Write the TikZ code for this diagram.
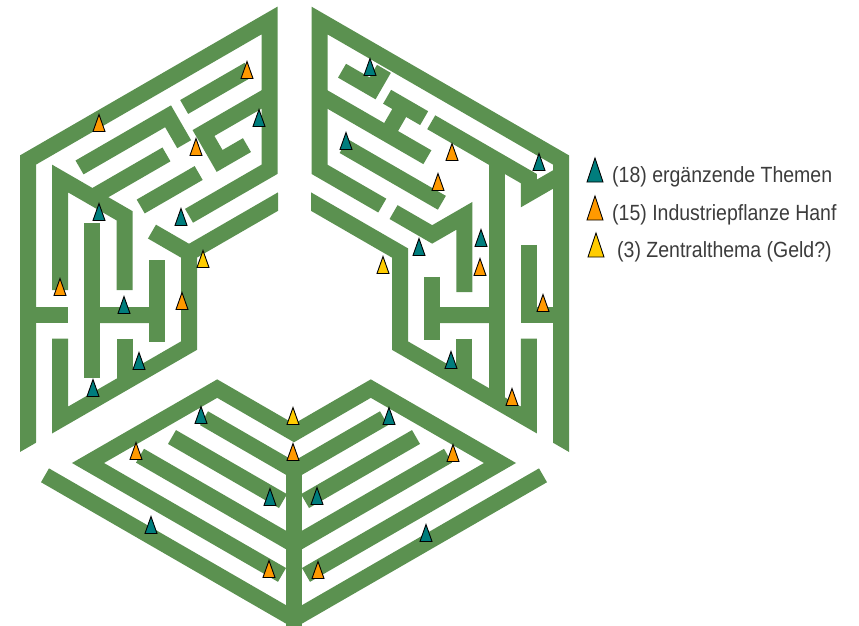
\documentclass[tikz,border=0pt]{standalone}
\usepackage{fontspec}
\setmainfont{Liberation Sans}
\definecolor{mz}{RGB}{91,145,80}
\definecolor{tealm}{RGB}{0,125,125}
\definecolor{orgm}{RGB}{255,153,0}
\definecolor{yelm}{RGB}{255,204,0}
\definecolor{txtm}{RGB}{60,60,60}
\newcommand\mtri[3]{\filldraw[mk,fill=#1] (#2-6,#3+8.5) -- (#2,#3-8.5) -- (#2+6,#3+8.5) -- cycle;}
\newcommand\ltri[3]{\filldraw[mk,fill=#1] (#2-8,#3+12) -- (#2,#3-12) -- (#2+8,#3+12) -- cycle;}
\begin{document}
\begin{tikzpicture}[x=1pt,y=-1pt,
  wall/.style={draw=mz,line width=16pt,line cap=butt,line join=miter},
  mk/.style={draw=black,line width=0.9pt,line join=miter},
  legtext/.style={anchor=base west,inner sep=0pt,text=txtm,font=\fontsize{22}{24}\selectfont}]
\useasboundingbox (0,0) rectangle (859,626);

% ---------- top-left section ----------
\begin{scope}
\clip (0,0) -- (278,0) -- (278,303.1) -- (0,463.5) -- cycle;
\begin{scope}[shift={(28,160)}]
\begin{scope}[x={(32.2pt,18.6pt)},y={(0pt,-37.2pt)}]
\draw[wall] (0,8.6)--(0,0)--(7.5,0)--(7.5,4)--(5,4);
\draw[wall] (7.9,5)--(5,5)--(5,7.5)--(1,7.5)--(1,5.3);
\draw[wall] (5,5)--(3.85,3.85);
\draw[wall] (1,4)--(1,1)--(3,3)--(3,5);
\draw[wall] (2,2)--(4.3,2);
\draw[wall] (2,2.7)--(2,6.85);
\draw[wall] (4,4.7)--(4,6.9);
\draw[wall] (2,5.167)--(4,6.167);
\draw[wall] (0,4.167)--(1.25,4.792);
\draw[wall] (3,6.3)--(3,7.5);
\draw[wall] (1.6,1)--(4.35,1)--(4.85,2);
\draw[wall] (4.85,1)--(6.85,1);
\draw[wall] (7.5,2)--(5.45,2)--(5.95,3)--(6.8,3);
\draw[wall] (3.5,3)--(5.3,3);
\end{scope}\end{scope}\end{scope}

% ---------- top-right section ----------
\begin{scope}
\clip (311,0) -- (589,0) -- (589,463.5) -- (311,303.1) -- cycle;
\begin{scope}[shift={(561,160)}]
\begin{scope}[x={(-32.2pt,18.6pt)},y={(0pt,-37.2pt)}]
\draw[wall] (0,8.6)--(0,0)--(7.5,0)--(7.5,4)--(5.55,4);
\draw[wall] (7.9,5)--(5,5)--(5,7.5)--(1,7.5)--(1,5.3);
\draw[wall] (5.2,4)--(4,4)--(3,3)--(3,5.05);
\draw[wall] (4,5.14)--(4,6.84);
\draw[wall] (4,6.167)--(2,5.167);
\draw[wall] (2,1)--(2,7.5);
\draw[wall] (3,6.3)--(3,7.5);
\draw[wall] (1,2.78)--(1,4.667)--(0,4.167);
\draw[wall] (6.8,1)--(5.85,1)--(5.5,0.3);
\draw[wall] (7.5,2)--(4.15,2);
\draw[wall] (5.4,1)--(4.25,1);
\draw[wall] (4.9,1)--(5.4,2);
\draw[wall] (4.03,1)--(1,1)--(1,1.4)--(0,0.4);
\draw[wall] (6.75,3)--(3.7,3);
\end{scope}\end{scope}\end{scope}

% ---------- bottom section ----------
\draw[wall] (45,475.3)--(294,619)--(543,475.3);
\draw[wall] (294,470)--(294,630);
\draw[wall] (282,574.9)--(88,463)--(217.2,388.6)--(294,433)--(370.8,388.6)--(500,463)--(306,574.9);
\draw[wall] (140,455.7)--(294,544.6)--(448,455.7);
\draw[wall] (172,437.0)--(283,501.1);
\draw[wall] (305,501.1)--(416,437.0);
\draw[wall] (204,418.2)--(294,470.2)--(384,418.2);

% ---------- markers ----------
\mtri{tealm}{370}{67}\mtri{tealm}{259}{118}\mtri{tealm}{346}{141}\mtri{tealm}{539}{162}
\mtri{tealm}{99}{212}\mtri{tealm}{181}{217}\mtri{tealm}{419}{247}\mtri{tealm}{481}{238}
\mtri{tealm}{124}{305}\mtri{tealm}{139}{361}\mtri{tealm}{93}{388}\mtri{tealm}{451}{360}
\mtri{tealm}{201}{415}\mtri{tealm}{389}{416}\mtri{tealm}{270}{497}\mtri{tealm}{317}{496}
\mtri{tealm}{151}{525}\mtri{tealm}{426}{533}
\mtri{orgm}{247}{70}\mtri{orgm}{99}{123}\mtri{orgm}{196}{147}\mtri{orgm}{452}{152}
\mtri{orgm}{438}{182}\mtri{orgm}{480}{267}\mtri{orgm}{60}{287}\mtri{orgm}{182}{301}
\mtri{orgm}{543}{303}\mtri{orgm}{512}{397}\mtri{orgm}{136}{451}\mtri{orgm}{293}{452}
\mtri{orgm}{453}{453}\mtri{orgm}{269}{569}\mtri{orgm}{318}{570}
\mtri{yelm}{203}{259}\mtri{yelm}{383}{265}\mtri{yelm}{293}{416}

% ---------- legend ----------
\ltri{tealm}{595}{170}
\ltri{orgm}{595}{208}
\ltri{yelm}{596}{245}
\node[legtext] (l1) at (612,182.5) {\scalebox{0.886}[1]{(18) ergänzende Themen}};
\node[legtext] (l2) at (612,220) {\scalebox{0.886}[1]{(15) Industriepflanze Hanf}};
\node[legtext] (l3) at (617,257.5) {\scalebox{0.886}[1]{(3) Zentralthema (Geld?)}};
\end{tikzpicture}
\end{document}
